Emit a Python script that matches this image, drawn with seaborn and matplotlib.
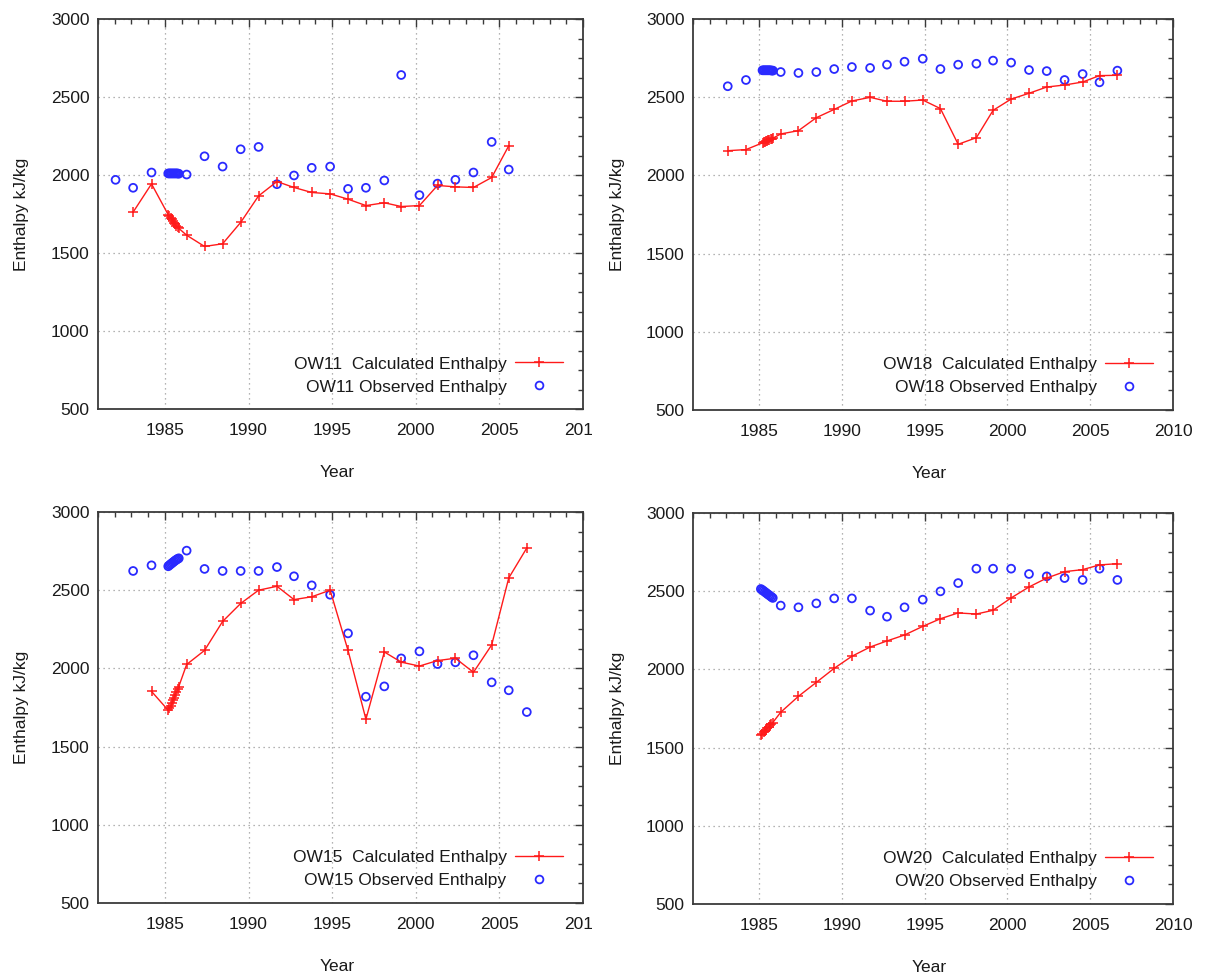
import numpy as np
import pandas as pd
import matplotlib
matplotlib.use("Agg")
import matplotlib.pyplot as plt
import seaborn as sns
from matplotlib.ticker import MultipleLocator
from matplotlib.transforms import Bbox
from matplotlib.lines import Line2D

sns.set_style("white")
plt.rcParams['font.family'] = ['Liberation Sans', 'DejaVu Sans']

# ---------------- data ----------------
cluster_years = [1985.20, 1985.27, 1985.34, 1985.41, 1985.48, 1985.55, 1985.62, 1985.69, 1985.76, 1985.83]

# OW11
ow11_calc_year = [1983.1, 1984.2] + cluster_years + [1986.3, 1987.37, 1988.45, 1989.53, 1990.6, 1991.7,
                  1992.72, 1993.78, 1994.88, 1995.95, 1997.02, 1998.12, 1999.13, 2000.22, 2001.3,
                  2002.37, 2003.45, 2004.54, 2005.56]
ow11_calc_val = [1762, 1943, 1745, 1735, 1725, 1715, 1705, 1695, 1685, 1675, 1666, 1658,
                 1614, 1542, 1559, 1696, 1866, 1958, 1920, 1888, 1879, 1845, 1804, 1822, 1798,
                 1804, 1933, 1924, 1920, 1984, 2187]
ow11_obs_year = [1982.05, 1983.1, 1984.2] + cluster_years + [1986.3, 1987.37, 1988.45, 1989.53, 1990.6,
                 1991.7, 1992.72, 1993.78, 1994.88, 1995.95, 1997.02, 1998.12, 1999.13, 2000.22,
                 2001.3, 2002.37, 2003.45, 2004.54, 2005.56]
ow11_obs_val = [1969, 1918, 2016, 2010, 2010, 2010, 2010, 2010, 2010, 2010, 2010, 2010, 2008,
                2003, 2120, 2054, 2165, 2180, 1941, 1997, 2046, 2054, 1911, 1918, 1965, 2641,
                1871, 1945, 1969, 2016, 2212, 2035]

# OW18
ow18_calc_year = [1983.1, 1984.2] + cluster_years + [1986.3, 1987.37, 1988.45, 1989.53, 1990.6, 1991.7,
                  1992.72, 1993.78, 1994.88, 1995.95, 1997.02, 1998.12, 1999.13, 2000.22, 2001.3,
                  2002.37, 2003.45, 2004.54, 2005.56, 2006.64]
ow18_calc_val = [2158, 2165, 2208, 2212, 2215, 2219, 2222, 2225, 2228, 2231, 2234, 2238,
                 2265, 2286, 2369, 2422, 2476, 2499, 2474, 2474, 2482, 2427, 2199, 2241, 2416,
                 2488, 2525, 2565, 2578, 2597, 2638, 2640]
ow18_obs_year = [1983.1, 1984.2] + cluster_years + [1986.3, 1987.37, 1988.45, 1989.53, 1990.6, 1991.7,
                 1992.72, 1993.78, 1994.88, 1995.95, 1997.02, 1998.12, 1999.13, 2000.22, 2001.3,
                 2002.37, 2003.45, 2004.54, 2005.56, 2006.64]
ow18_obs_val = [2570, 2610, 2672, 2672, 2672, 2672, 2672, 2672, 2672, 2672, 2670, 2670,
                2661, 2655, 2661, 2680, 2693, 2687, 2708, 2727, 2746, 2680, 2708, 2714, 2734,
                2721, 2674, 2667, 2610, 2648, 2595, 2670]

# OW15
ow15_calc_year = [1984.2] + cluster_years + [1986.3, 1987.37, 1988.45, 1989.53, 1990.6, 1991.7,
                  1992.72, 1993.78, 1994.88, 1995.95, 1997.02, 1998.12, 1999.13, 2000.22, 2001.3,
                  2002.37, 2003.45, 2004.54, 2005.56, 2006.64]
ow15_calc_val = [1853, 1732, 1745, 1762, 1778, 1795, 1812, 1830, 1848, 1866, 1884,
                 2025, 2115, 2300, 2415, 2500, 2525, 2440, 2458, 2500, 2115, 1675, 2105, 2040,
                 2015, 2050, 2065, 1975, 2150, 2578, 2770]
ow15_obs_year = [1983.1, 1984.2] + cluster_years + [1986.3, 1987.37, 1988.45, 1989.53, 1990.6, 1991.7,
                 1992.72, 1993.78, 1994.88, 1995.95, 1997.02, 1998.12, 1999.13, 2000.22, 2001.3,
                 2002.37, 2003.45, 2004.54, 2005.56, 2006.64]
ow15_obs_val = [2623, 2659, 2653, 2660, 2666, 2672, 2678, 2684, 2690, 2695, 2700, 2704,
                2753, 2636, 2623, 2623, 2623, 2648, 2589, 2531, 2471, 2224, 1819, 1885, 2064,
                2109, 2028, 2039, 2084, 1911, 1860, 1721]

# OW20
ow20_cluster_years = [1985.10, 1985.18, 1985.26, 1985.34, 1985.42, 1985.50, 1985.58, 1985.66, 1985.74, 1985.82]
ow20_calc_year = ow20_cluster_years + [1986.3, 1987.37, 1988.45, 1989.53, 1990.6, 1991.7,
                 1992.72, 1993.78, 1994.88, 1995.95, 1997.02, 1998.12, 1999.13, 2000.22, 2001.3,
                 2002.37, 2003.45, 2004.54, 2005.56, 2006.64]
ow20_calc_val = [1578, 1588, 1597, 1606, 1615, 1624, 1633, 1642, 1651, 1660,
                 1726, 1828, 1917, 2007, 2084, 2143, 2182, 2220, 2275, 2324, 2361, 2354, 2378,
                 2457, 2527, 2584, 2625, 2638, 2668, 2676]
ow20_obs_year = ow20_cluster_years + [1986.3, 1987.37, 1988.45, 1989.53, 1990.6, 1991.7,
                1992.72, 1993.78, 1994.88, 1995.95, 1997.02, 1998.12, 1999.13, 2000.22, 2001.3,
                2002.37, 2003.45, 2004.54, 2005.56, 2006.64]
ow20_obs_val = [2514, 2508, 2502, 2495, 2489, 2482, 2476, 2470, 2463, 2457,
                2408, 2397, 2422, 2454, 2454, 2376, 2337, 2397, 2446, 2499, 2552, 2644, 2644,
                2644, 2610, 2595, 2584, 2572, 2644, 2572]

wells = ["OW11", "OW18", "OW15", "OW20"]
calc_years = [ow11_calc_year, ow18_calc_year, ow15_calc_year, ow20_calc_year]
calc_vals = [ow11_calc_val, ow18_calc_val, ow15_calc_val, ow20_calc_val]
obs_years = [ow11_obs_year, ow18_obs_year, ow15_obs_year, ow20_obs_year]
obs_vals = [ow11_obs_val, ow18_obs_val, ow15_obs_val, ow20_obs_val]

x_ticks = [1985, 1990, 1995, 2000, 2005, 2010]
y_ticks = [500, 1000, 1500, 2000, 2500, 3000]

# ---------------- layout ----------------
W, H = 1215, 976
fig = plt.figure(figsize=(W / 100, H / 100), dpi=100)
fig.patch.set_facecolor("white")

rects = [
    [98 / W, (H - 409) / H, 485 / W, 390 / H],
    [693 / W, (H - 410) / H, 480 / W, 391 / H],
    [98 / W, (H - 903) / H, 485 / W, 391 / H],
    [693 / W, (H - 904) / H, 480 / W, 391 / H],
]

RED = "#ff1a1a"
BLUE = "#2a2aff"
TXT = "#1a1a1a"
AX = "#3a3a3a"
FS = 12.5

axes = []
for i, well in enumerate(wells):
    ax = fig.add_axes(rects[i])
    axes.append(ax)
    calc_df = pd.DataFrame({"Year": calc_years[i], "Enthalpy": calc_vals[i]})
    obs_df = pd.DataFrame({"Year": obs_years[i], "Enthalpy": obs_vals[i]})

    sns.scatterplot(data=obs_df, x="Year", y="Enthalpy", ax=ax, marker="o", s=32,
                    facecolor="none", edgecolor=BLUE, linewidth=1.3, zorder=3, legend=False)
    sns.lineplot(data=calc_df, x="Year", y="Enthalpy", ax=ax, color=RED, linewidth=1.0,
                 marker="+", markersize=7, markeredgewidth=1.1, markeredgecolor=RED,
                 sort=False, estimator=None, zorder=4, legend=False)

    ax.set_xlim(1981, 2010)
    ax.set_ylim(500, 3000)
    ax.set_xticks(x_ticks)
    ax.set_yticks(y_ticks)
    ax.xaxis.set_minor_locator(MultipleLocator(1))
    ax.yaxis.set_minor_locator(MultipleLocator(125))
    ax.tick_params(which="both", direction="in", top=True, right=True, color=AX, width=1.0)
    ax.tick_params(which="major", length=6)
    ax.tick_params(which="minor", length=3.5)
    ax.tick_params(axis="x", which="major", pad=10, labelsize=FS, labelcolor=TXT)
    ax.tick_params(axis="y", which="major", pad=6, labelsize=FS, labelcolor=TXT)
    ax.grid(True, which="major", color="#9a9a9a", linestyle=(0, (1, 3)), linewidth=0.9)
    for sp in ax.spines.values():
        sp.set_color(AX)
        sp.set_linewidth(1.3)

    ax.set_xlabel("Year", fontsize=FS, color=TXT)
    ax.set_ylabel("Enthalpy kJ/kg", fontsize=FS, color=TXT)
    ax.xaxis.set_label_coords(0.493, -0.162)
    ax.yaxis.set_label_coords(-0.158, 0.5)
    ax.xaxis.label.set_va("center")
    ax.yaxis.label.set_va("center")

    h_calc = Line2D([], [], color=RED, linewidth=1.0, marker="+", markersize=7, markeredgewidth=1.1)
    h_obs = Line2D([], [], linestyle="none", marker="o", markersize=5.6, markerfacecolor="none",
                   markeredgecolor=BLUE, markeredgewidth=1.3)
    leg = ax.legend([h_calc, h_obs], [f"{well}  Calculated Enthalpy", f"{well} Observed Enthalpy"],
                    loc="center right", bbox_to_anchor=(0.991, 0.086), frameon=False,
                    markerfirst=False, fontsize=FS, handlelength=2.75, handletextpad=0.5,
                    labelspacing=0.45, borderpad=0.4)
    for t in leg.get_texts():
        t.set_color(TXT)

# clip the 2010 label of the left-column panels at the sub-figure boundary
fig.canvas.draw()
clip = Bbox.from_extents(0, 0, 592, H)
for ax in (axes[0], axes[2]):
    for lbl in ax.get_xticklabels():
        lbl.set_clip_on(True)
        lbl.set_clip_box(clip)

fig.savefig("out.png", dpi=100, facecolor="white")
